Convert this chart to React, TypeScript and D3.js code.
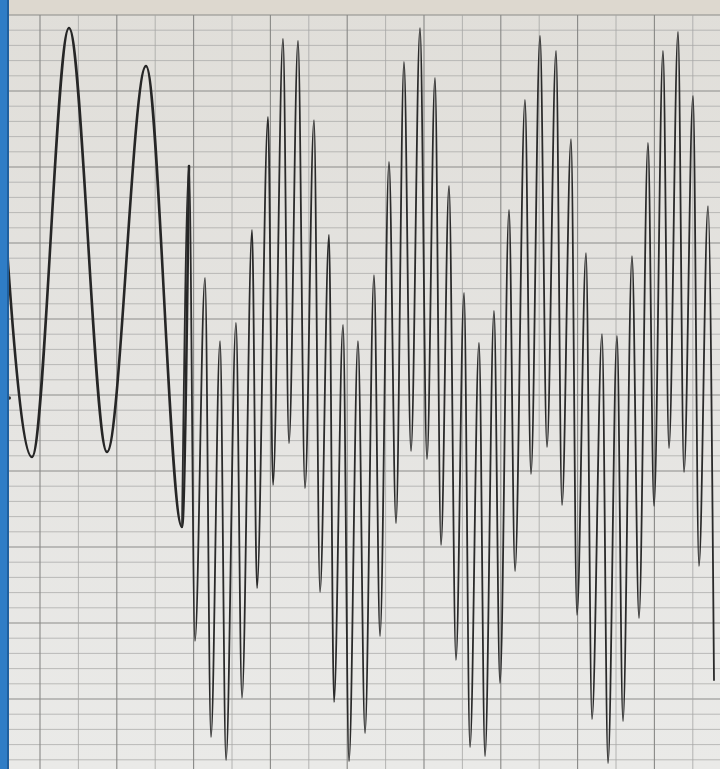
import React from "react";
import * as d3 from "d3";

// Time in major chart divisions (s), value in minor chart divisions
const startTime = [-0.2];
const startValue = [48.0];

const slowTimes = [0.79, 1.755, 2.745, 3.76, 4.698];
const slowValues = [20.92, 49.14, 21.25, 46.64, 16.32];

const fastTimes = [
  4.88, 5.036, 5.297, 5.453, 5.688, 5.844, 6.104, 6.26, 6.521, 6.651,
  6.938, 7.068, 7.328, 7.484, 7.719, 7.901, 8.135, 8.292, 8.526, 8.656,
  8.891, 9.047, 9.281, 9.464, 9.698, 9.854, 10.089, 10.271, 10.479, 10.661,
  10.896, 11.078, 11.286, 11.443, 11.651, 11.833, 12.042, 12.198, 12.432, 12.589,
  12.823, 12.979, 13.214, 13.37, 13.63, 13.786, 14.021, 14.203, 14.438, 14.594,
  14.828, 14.984, 15.219, 15.375, 15.635, 15.792, 16.026, 16.182, 16.417, 16.599,
  16.833, 16.99, 17.224, 17.38, 17.615, 17.771, 18.005, 18.161, 18.396, 18.552,
];
const fastValues = [
  40.07, 8.82, 32.7, 2.5, 28.55, 0.99, 29.74, 5.07, 35.86, 12.3,
  43.29, 19.08, 48.42, 21.84, 48.29, 18.88, 43.09, 12.04, 35.53, 4.8,
  29.61, 0.92, 28.55, 2.76, 32.89, 9.14, 40.33, 16.58, 46.91, 21.32,
  49.14, 20.79, 45.86, 15.13, 38.75, 7.57, 31.71, 1.84, 28.42, 1.25,
  30.53, 6.05, 37.17, 13.42, 44.41, 19.8, 48.62, 21.58, 47.63, 17.76,
  41.84, 10.53, 34.34, 3.68, 29.01, 0.79, 28.88, 3.55, 34.14, 10.33,
  41.58, 17.7, 47.63, 21.51, 48.88, 19.93, 44.67, 13.75, 37.43, 6.25,
];

const verticalGrid = d3.range(0, 19);
const horizontalGrid = d3.range(0, 51);

const W = 720;
const H = 769;

export default function App() {
  const x = d3.scaleLinear().domain([0, 10]).range([1.6, 385.6]);
  const y = d3.scaleLinear().domain([0, 50]).range([775, 15]);

  const times = [...startTime, ...slowTimes, ...fastTimes];
  const values = [...startValue, ...slowValues, ...fastValues];
  const pts: [number, number][] = times.map((t, i) => [t, values[i]]);

  const line = d3
    .line<[number, number]>()
    .x((d) => x(d[0]))
    .y((d) => y(d[1]))
    .curve(d3.curveMonotoneX);

  const slowPts = pts.slice(0, 1 + slowTimes.length + 1);
  const fastPts = pts.slice(slowTimes.length);

  return (
    <svg
      width={W}
      height={H}
      viewBox={`0 0 ${W} ${H}`}
      style={{ position: "absolute", left: 0, top: 0, display: "block" }}
    >
      <defs>
        <linearGradient id="paper" x1="0" y1="0" x2="0" y2="1">
          <stop offset="0" stopColor="#e0ded9" />
          <stop offset="0.5" stopColor="#e5e4e1" />
          <stop offset="1" stopColor="#eaeae8" />
        </linearGradient>
        <clipPath id="clip">
          <rect x={0} y={0} width={W} height={H} />
        </clipPath>
      </defs>
      <rect x={0} y={0} width={W} height={H} fill="url(#paper)" />
      <rect x={0} y={0} width={W} height={y(50)} fill="#ddd8cf" />
      {horizontalGrid.map((v) => (
        <line
          key={"h" + v}
          x1={0}
          x2={W}
          y1={y(v)}
          y2={y(v)}
          stroke={v % 5 === 0 ? "#8c8c8a" : "#aaaaa8"}
          strokeWidth={v % 5 === 0 ? 1.1 : 0.75}
        />
      ))}
      {verticalGrid.map((t) => (
        <line
          key={"v" + t}
          x1={x(t)}
          x2={x(t)}
          y1={y(50)}
          y2={H}
          stroke={t % 2 === 1 ? "#888886" : "#a6a6a4"}
          strokeWidth={t % 2 === 1 ? 1.1 : 0.8}
        />
      ))}
      <g clipPath="url(#clip)">
        <path
          d={line(slowPts) || ""}
          fill="none"
          stroke="#262626"
          strokeWidth={2.6}
          strokeLinejoin="round"
          strokeLinecap="round"
        />
        <path
          d={line(fastPts) || ""}
          fill="none"
          stroke="#2a2a2a"
          strokeWidth={1.8}
          strokeLinejoin="round"
          strokeLinecap="round"
        />
      </g>
      <circle cx={x(0.2)} cy={y(24.8)} r={1.8} fill="#333" />
      <rect x={0} y={0} width={9} height={H} fill="#2f7dc6" />
      <rect x={7} y={0} width={2} height={H} fill="#1f5f9e" />
    </svg>
  );
}
